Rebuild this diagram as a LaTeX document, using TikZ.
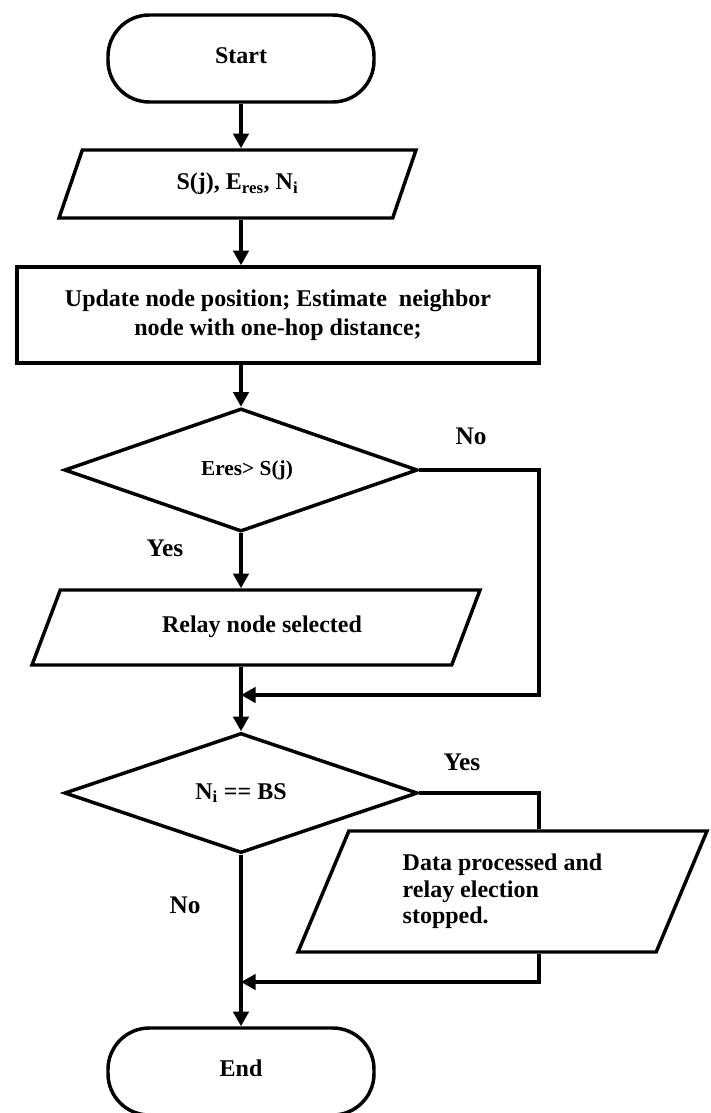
\documentclass[tikz,border=0pt]{standalone}
\usepackage{fontspec}
\setmainfont{Liberation Serif}
\usetikzlibrary{arrows.meta,shapes.geometric}
\tikzset{every node/.style={font=\bfseries\fontsize{18}{22}\selectfont,inner sep=0pt},
 term/.style={draw,line width=2.6pt,rounded corners=31pt,minimum width=199.5pt,minimum height=65.25pt},
 proc/.style={draw,line width=2.6pt,minimum width=391.5pt,minimum height=72pt,align=center},
 io/.style={draw,line width=2.6pt,trapezium,trapezium stretches body},
 dec/.style={draw,line width=2.6pt,diamond,minimum width=265pt,minimum height=90pt},
 wire/.style={line width=2.6pt},arr/.style={wire,-{Triangle[length=11pt,width=11.5pt]}},
 lbl/.style={font=\bfseries\fontsize{19}{22}\selectfont}}
\begin{document}
\begin{tikzpicture}[x=0.75pt,y=-0.75pt]
\useasboundingbox (0,0) rectangle (710,1113);
\node[term] (st) at (241,58.5) {\raisebox{4pt}{Start}};
\node[io,trapezium left angle=43,trapezium right angle=137,minimum width=267.75pt,minimum height=51pt] (in1) at (237.5,184) {S(j), E\textsubscript{res}, N\textsubscript{i}\hspace{18pt}};
\node[proc,font=\bfseries\fontsize{18}{22}\selectfont] (upd) at (278,315) {\raisebox{0pt}{Update node position; Estimate~ neighbor}\\node with one-hop distance;};
\node[dec,font=\bfseries\fontsize{16}{20}\selectfont] (d1) at (241,470) {\hspace{9pt}Eres> S(j)};
\node[io,trapezium left angle=39.5,trapezium right angle=140.5,minimum width=336pt,minimum height=56.25pt] (in2) at (256,627.5) {\hspace{9pt}\raisebox{5pt}{Relay node selected}};
\node[dec] (d2) at (241,793) {N\textsubscript{i} == BS};
\node[io,trapezium left angle=55.9,trapezium right angle=124.1,minimum width=306.75pt,minimum height=90.75pt,align=left,font=\bfseries\fontsize{18}{20}\selectfont] (in3) at (502.5,891.5) {Data processed and\\relay election\\stopped.};
\node[term] (en) at (241,1071.5) {\raisebox{4.5pt}{End}};
% branch labels
\node[lbl] (no1) at (471,436) {No};
\node[lbl] (yes1) at (165,548) {Yes};
\node[lbl] (yes2) at (462,762) {Yes};
\node[lbl] (no2) at (185,905) {No};
\coordinate (nob) at (539,695);
\coordinate (yesb) at (539,982);
\foreach \u/\v in {st/in1,in1/upd,upd/d1,d1/in2,in2/d2,d2/en}{\draw[arr] (\u.south -| st) -- (\v.north -| st);}
\draw[arr] (d1.east) -| (nob) -- (nob -| st);
\draw[wire] (d2.east) -| (in3.north -| nob);
\draw[arr] (in3.south -| nob) |- (yesb -| st);
\end{tikzpicture}
\end{document}
